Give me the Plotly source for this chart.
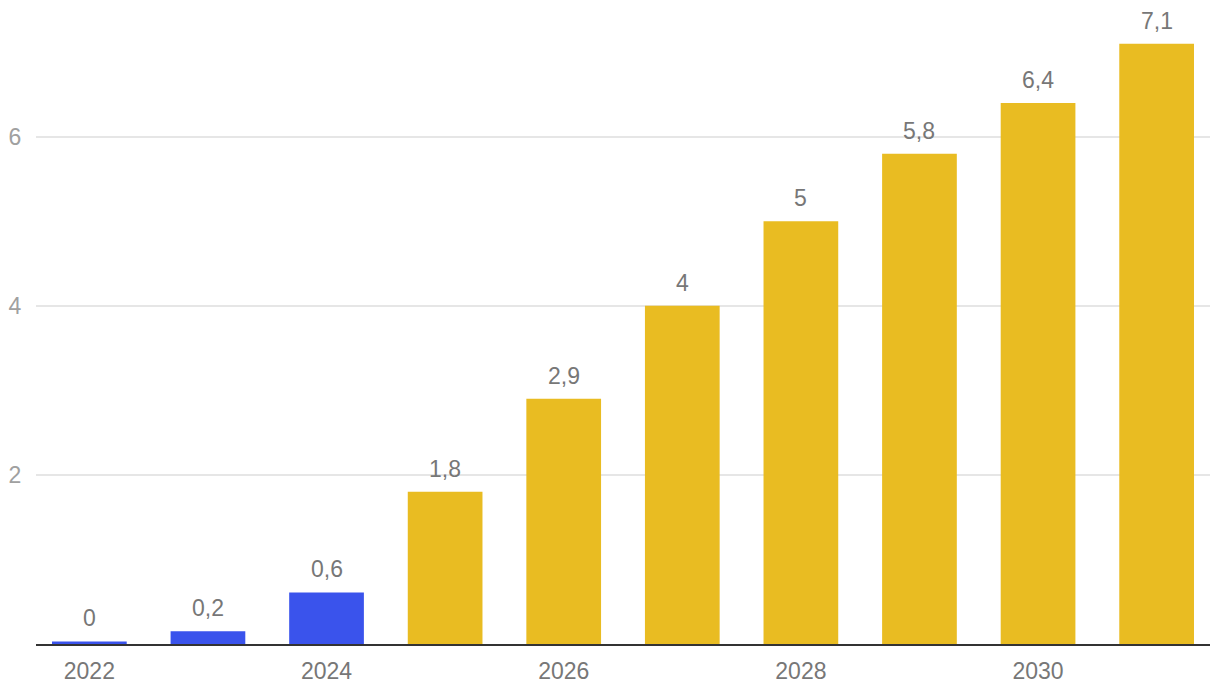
import plotly.graph_objects as go

years = [2022, 2023, 2024, 2025, 2026, 2027, 2028, 2029, 2030, 2031]
values = [0.03, 0.15, 0.61, 1.8, 2.9, 4.0, 5.0, 5.8, 6.4, 7.1]
labels = ["0", "0,2", "0,6", "1,8", "2,9", "4", "5", "5,8", "6,4", "7,1"]
is_actual = [True, True, True, False, False, False, False, False, False, False]
y_ticks = [2, 4, 6]

BLUE = "#3A53EC"
YELLOW = "#E9BC22"
FONT = "Liberation Sans, Arial, sans-serif"

colors = [BLUE if a else YELLOW for a in is_actual]

fig = go.Figure()
fig.add_trace(go.Bar(
    x=years, y=values, marker_color=colors, marker_line_width=0,
    hoverinfo="skip",
))
for x, v, t in zip(years, values, labels):
    fig.add_annotation(x=x, y=v, text=t, showarrow=False, yanchor="bottom",
                       yshift=8, font=dict(family=FONT, size=23, color="#777777"))

# page body has an 8px margin, so the figure is sized/offset to compensate
fig.update_layout(
    width=1212, height=688,
    margin=dict(l=28, r=10, t=2, b=52, autoexpand=False),
    plot_bgcolor="white", paper_bgcolor="white",
    bargap=0.37, showlegend=False,
    font=dict(family=FONT, size=23, color="#777777"),
    xaxis=dict(
        range=[2021.55, 2031.45], tick0=2022, dtick=2, tickmode="linear",
        showgrid=False, zeroline=False, automargin=False,
        showline=True, linecolor="#333333", linewidth=2,
        ticks="outside", ticklen=5, tickcolor="rgba(0,0,0,0)",
        tickfont=dict(family=FONT, size=23, color="#777777"),
    ),
    yaxis=dict(
        range=[0, 7.5], tickvals=y_ticks, ticktext=[str(v) for v in y_ticks],
        showgrid=True, gridcolor="#e6e6e6", gridwidth=1.5, zeroline=False,
        automargin=False,
        ticks="outside", ticklen=9, tickcolor="rgba(0,0,0,0)",
        tickfont=dict(family=FONT, size=23, color="#a0a0a0"),
    ),
)

fig.write_html("out.html")
